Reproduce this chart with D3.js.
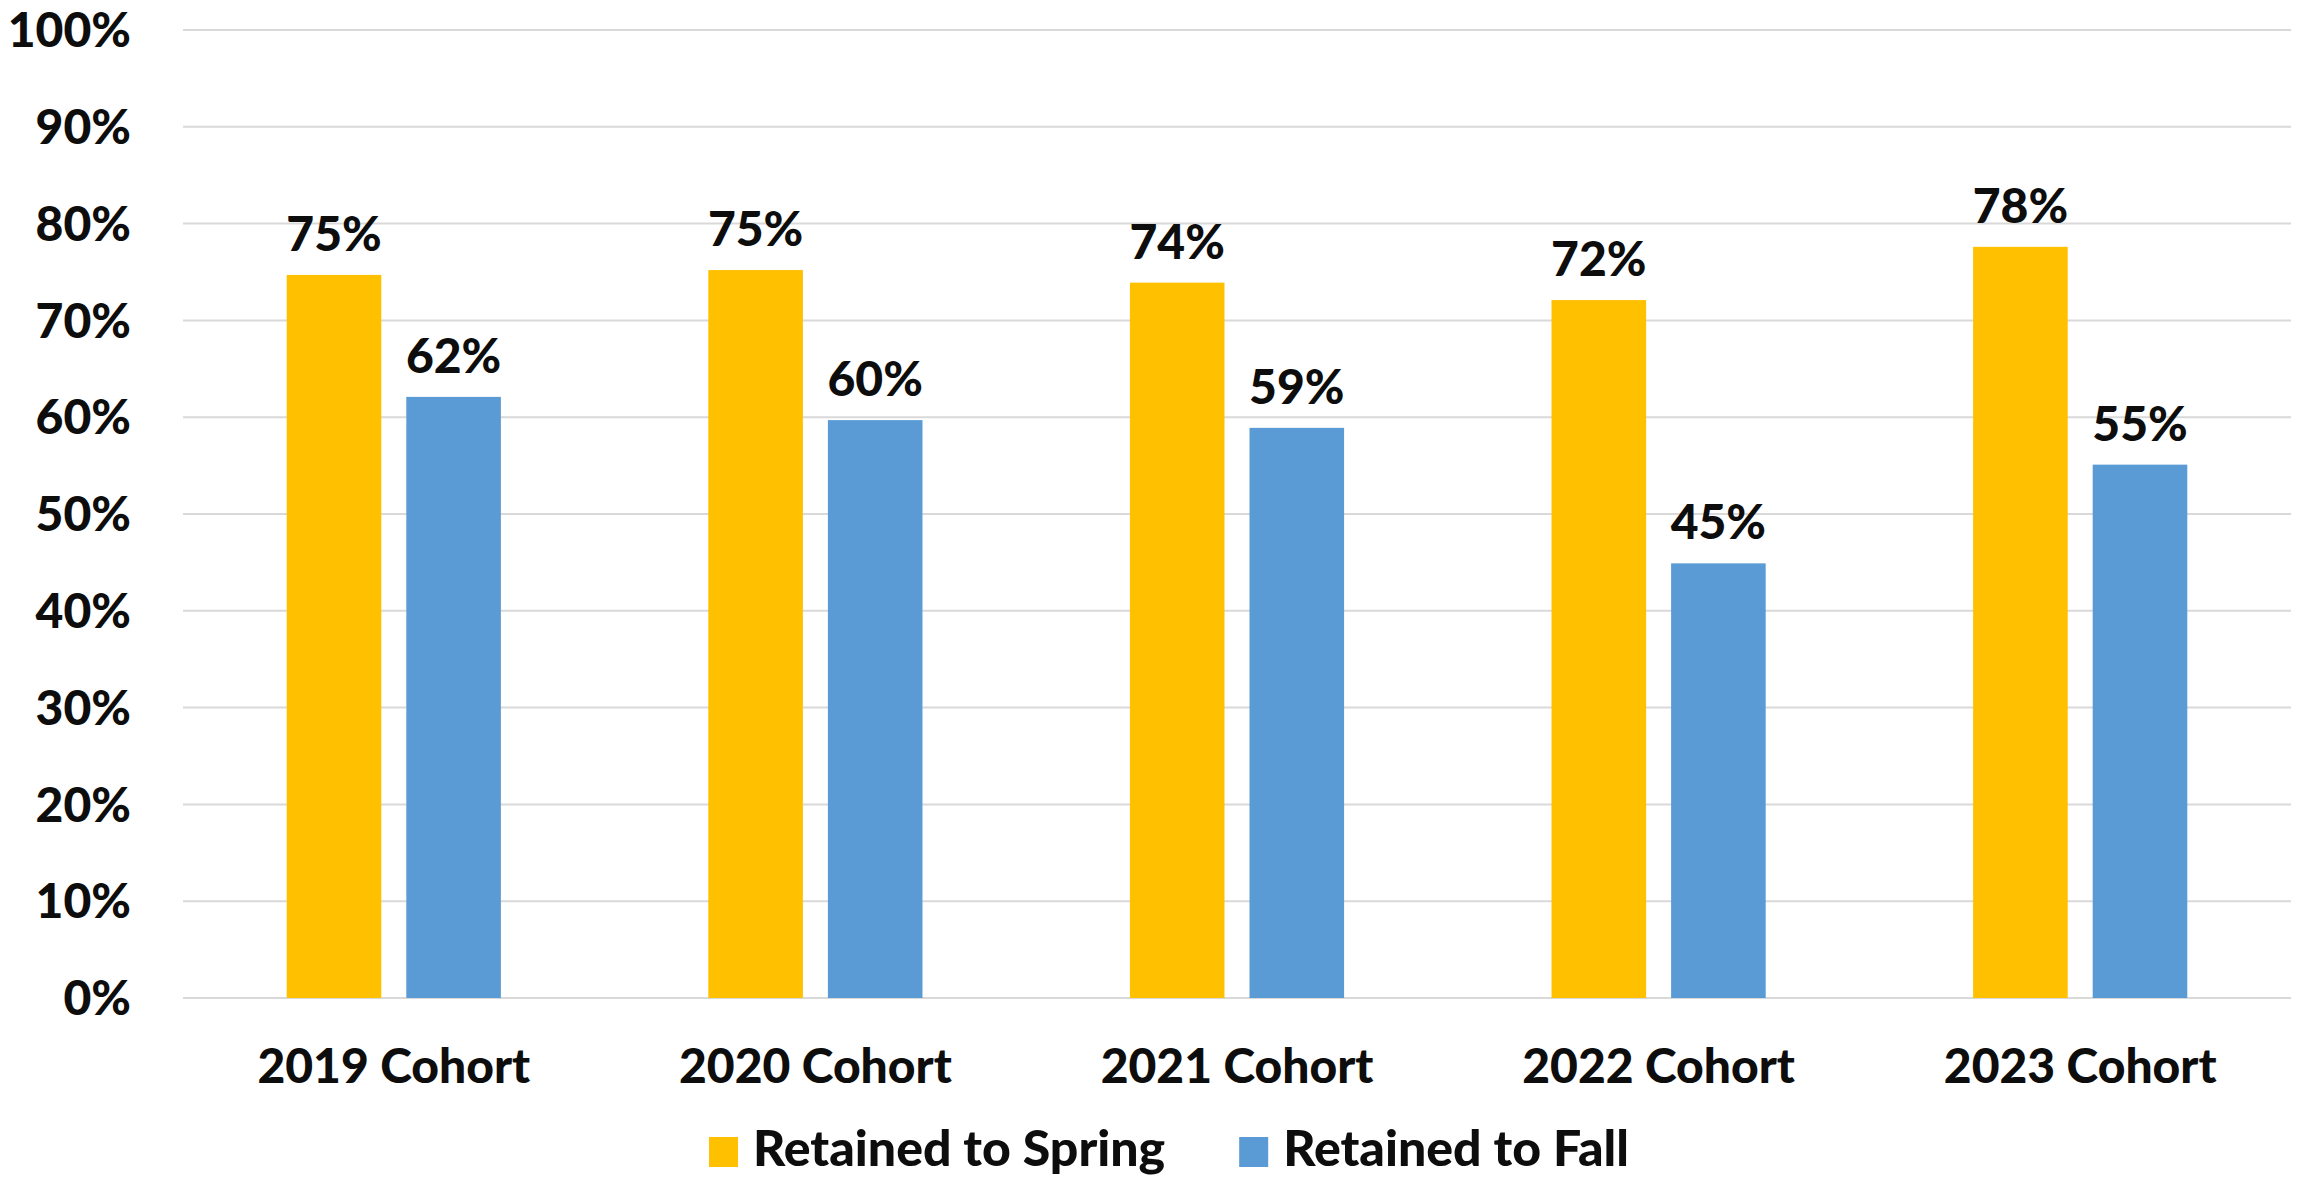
<!DOCTYPE html>
<html>
<head>
<meta charset="utf-8">
<script src="https://cdn.jsdelivr.net/npm/d3@7"></script>
<style>
  html, body { margin: 0; padding: 0; background: #ffffff; }
  svg { display: block; }
  text { font-family: Lato, "Open Sans", sans-serif; font-weight: 900; fill: #0d0d0d; }
</style>
</head>
<body>
<svg id="chart" width="2305" height="1179"></svg>
<script>
const categories = ["2019 Cohort", "2020 Cohort", "2021 Cohort", "2022 Cohort", "2023 Cohort"];
const seriesNames = ["Retained to Spring", "Retained to Fall"];
const retainedSpring = [74.7, 75.2, 73.9, 72.1, 77.6];
const retainedFall = [62.1, 59.7, 58.9, 44.9, 55.1];
const yTicks = [0, 10, 20, 30, 40, 50, 60, 70, 80, 90, 100];
const colors = ["#FFC000", "#5B9BD5"];

const W = 2305, H = 1179;
const plot = { left: 183, right: 2291, top: 30, bottom: 998 };
const svg = d3.select("#chart");
svg.append("rect").attr("width", W).attr("height", H).attr("fill", "#fff");

const x0 = d3.scaleBand().domain(categories).range([plot.left, plot.right])
  .paddingInner(0.492).paddingOuter(0.246);
const x1 = d3.scaleBand().domain(seriesNames).range([0, x0.bandwidth()]).paddingInner(0.209);
const y = d3.scaleLinear().domain([0, 100]).range([plot.bottom, plot.top]);

// gridlines
svg.append("g").selectAll("line").data(yTicks).join("line")
  .attr("x1", plot.left).attr("x2", plot.right)
  .attr("y1", d => y(d)).attr("y2", d => y(d))
  .attr("stroke", "#d9d9d9").attr("stroke-width", 2);

// y axis labels
svg.append("g").selectAll("text").data(yTicks).join("text")
  .attr("x", 131).attr("y", d => y(d)).attr("dy", "0.36em")
  .attr("text-anchor", "end").attr("font-size", 48)
  .text(d => d + "%");

const rows = categories.map((c, i) => ({ cat: c, vals: [retainedSpring[i], retainedFall[i]] }));

const groups = svg.append("g").selectAll("g").data(rows).join("g")
  .attr("transform", d => `translate(${x0(d.cat)},0)`);

groups.selectAll("rect").data(d => d.vals.map((v, k) => ({ k, v }))).join("rect")
  .attr("x", d => x1(seriesNames[d.k]))
  .attr("width", x1.bandwidth())
  .attr("y", d => y(d.v))
  .attr("height", d => y(0) - y(d.v))
  .attr("fill", d => colors[d.k]);

groups.selectAll("text").data(d => d.vals.map((v, k) => ({ k, v }))).join("text")
  .attr("x", d => x1(seriesNames[d.k]) + x1.bandwidth() / 2)
  .attr("y", d => y(d.v) - 24)
  .attr("text-anchor", "middle").attr("font-size", 48)
  .text(d => Math.round(d.v) + "%");

// category labels
svg.append("g").selectAll("text").data(categories).join("text")
  .attr("x", d => x0(d) + x0.bandwidth() / 2)
  .attr("y", 1083)
  .attr("text-anchor", "middle").attr("font-size", 48)
  .text(d => d);

// legend
const legend = svg.append("g");
let lx = 709;
seriesNames.forEach((name, k) => {
  legend.append("rect").attr("x", lx).attr("y", 1137).attr("width", 29).attr("height", 30).attr("fill", colors[k]);
  const t = legend.append("text").attr("x", lx + 44).attr("y", 1166).attr("font-size", 50).text(name);
  lx = lx + 44 + t.node().getComputedTextLength() + 74;
});
</script>
</body>
</html>
